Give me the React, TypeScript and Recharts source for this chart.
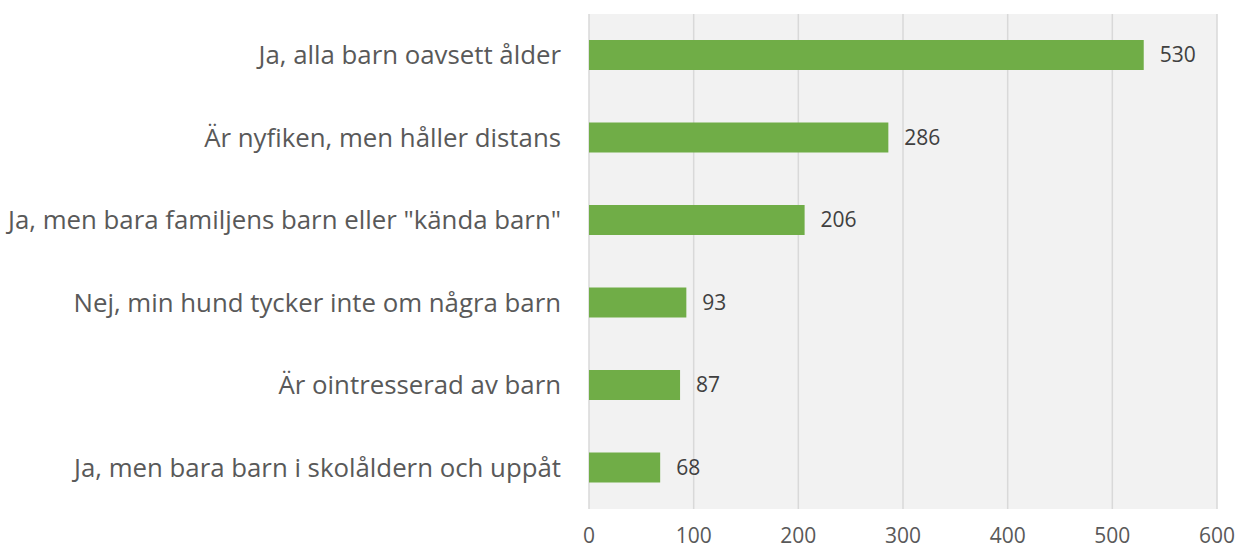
import React from 'react';
import { BarChart, Bar, XAxis, YAxis, CartesianGrid, LabelList } from 'recharts';

const categories = [
  'Ja, alla barn oavsett ålder',
  'Är nyfiken, men håller distans',
  'Ja, men bara familjens barn eller "kända barn"',
  'Nej, min hund tycker inte om några barn',
  'Är ointresserad av barn',
  'Ja, men bara barn i skolåldern och uppåt',
];
const counts = [530, 286, 206, 93, 87, 68];
const xTicks = [0, 100, 200, 300, 400, 500, 600];

const data = categories.map((name, i) => ({ name, value: counts[i] }));

const FONT = '"Open Sans", sans-serif';

export default function App() {
  return (
    <div style={{ position: 'absolute', left: 0, top: 0, background: '#fff', fontFamily: FONT }}>
      <BarChart
        width={1238}
        height={549}
        data={data}
        layout="vertical"
        margin={{ top: 14, right: 21, bottom: 0, left: 0 }}
        barCategoryGap={0}
      >
        <CartesianGrid
          horizontal={false}
          fill="#f2f2f2"
          stroke="#d9d9d9"
          strokeWidth={1.5}
        />
        <XAxis
          type="number"
          domain={[0, 600]}
          ticks={xTicks}
          axisLine={false}
          tickLine={false}
          height={40}
          tickMargin={13}
          tick={{ fill: '#595959', fontSize: 21, fontFamily: FONT }}
        />
        <YAxis
          type="category"
          dataKey="name"
          width={589}
          axisLine={false}
          tickLine={false}
          tickMargin={22}
          interval={0}
          tick={{ fill: '#595959', fontSize: 25.8, fontFamily: FONT }}
        />
        <Bar dataKey="value" fill="#70ad47" barSize={30} isAnimationActive={false}>
          <LabelList
            dataKey="value"
            position="right"
            offset={16}
            fill="#404040"
            fontSize={21}
            fontFamily={FONT}
          />
        </Bar>
      </BarChart>
    </div>
  );
}
